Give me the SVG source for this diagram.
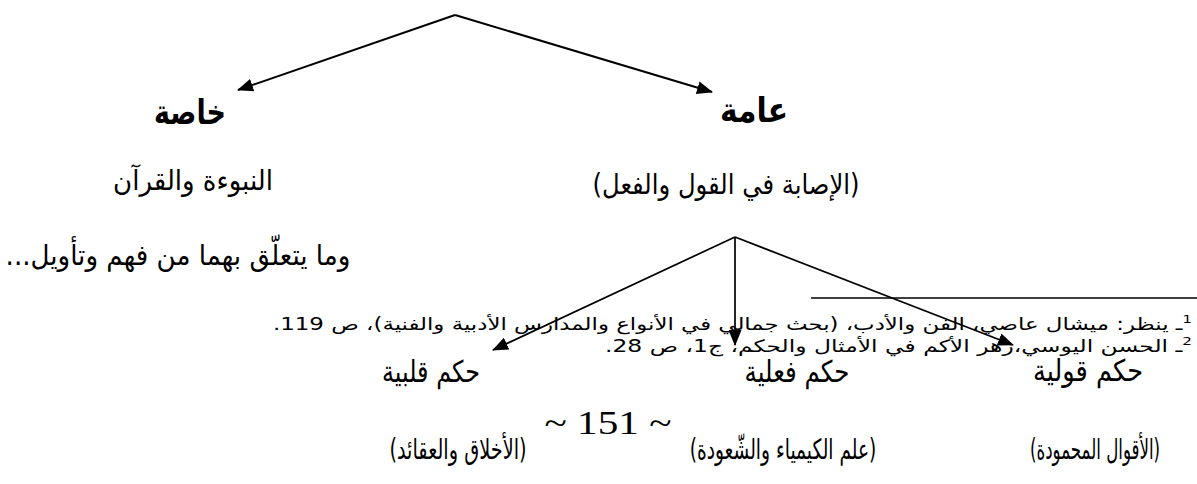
<svg xmlns="http://www.w3.org/2000/svg" width="1197" height="484" viewBox="0 0 1197 484">
<style>
.ar{font-family:"DejaVu Sans","Noto Sans",sans-serif;fill:#000;direction:rtl;unicode-bidi:embed}
.big{font-size:34px;font-weight:bold}
.main{font-size:28px}
.lab{font-size:30px}
.bot{font-size:28px}
.fn{font-size:17px}
.pg{font-family:"Liberation Serif","DejaVu Serif",serif;font-size:34px;fill:#000}
.ln{stroke:#000;stroke-width:2;fill:none}
.ln2{stroke:#000;stroke-width:1.7;fill:none}
</style>
<defs>
<marker id="ah" viewBox="0 0 16 13" refX="15" refY="6.5" markerWidth="16" markerHeight="13" markerUnits="userSpaceOnUse" orient="auto">
<path d="M0,0 L16,6.5 L0,13 z" fill="#000"/>
</marker>
</defs>
<g id="connectors">
<path class="ln" d="M455,15 L238,90" marker-end="url(#ah)"/>
<path class="ln" d="M455,15 L712,92" marker-end="url(#ah)"/>
<path class="ln2" d="M735,237 L493,350" marker-end="url(#ah)"/>
<path class="ln2" d="M735,237 L735,345" marker-end="url(#ah)"/>
<path class="ln2" d="M735,237 L1013,345" marker-end="url(#ah)"/>
</g>
<g id="footnote-rule"><line x1="811" y1="298" x2="1197" y2="298" stroke="#000" stroke-width="1.5"/></g>
<g id="khassa">
<text class="ar big" x="190" y="124" text-anchor="middle" textLength="72" lengthAdjust="spacingAndGlyphs">خاصة</text>
<text class="ar main" transform="translate(193,190) scale(0.85,1)" x="0" y="0" text-anchor="middle" textLength="188" lengthAdjust="spacingAndGlyphs">النبوءة والقرآن</text>
<text class="ar main" transform="translate(178,265) scale(0.86,1)" x="0" y="0" text-anchor="middle" textLength="401" lengthAdjust="spacingAndGlyphs">وما يتعلّق بهما من فهم وتأويل...</text>
</g>
<g id="amma">
<text class="ar big" x="754" y="122" text-anchor="middle" textLength="68" lengthAdjust="spacingAndGlyphs">عامة</text>
<text class="ar main" transform="translate(726,194) scale(0.85,1)" x="0" y="0" text-anchor="middle" textLength="314" lengthAdjust="spacingAndGlyphs">(الإصابة في القول والفعل)</text>
</g>
<g id="footnotes">
<text class="ar fn" x="1192" y="330" text-anchor="start" textLength="919" lengthAdjust="spacingAndGlyphs"><tspan font-size="11" dy="-7">1</tspan><tspan dy="7">ـ ينظر: ميشال عاصي، الفن والأدب، (بحث جمالي في الأنواع والمدارس الأدبية والفنية)، ص 119.</tspan></text>
<text class="ar fn" x="1192" y="352" text-anchor="start" textLength="587" lengthAdjust="spacingAndGlyphs"><tspan font-size="11" dy="-7">2</tspan><tspan dy="7">ـ الحسن اليوسي،زهر الأكم في الأمثال والحكم، ج1، ص 28.</tspan></text>
</g>
<g id="qalbiya">
<text class="ar lab" transform="translate(431,382) scale(0.75,1)" x="0" y="0" text-anchor="middle" textLength="131" lengthAdjust="spacingAndGlyphs">حكم قلبية</text>
<text class="ar bot" transform="translate(458,459) scale(0.56,1)" x="0" y="0" text-anchor="middle" textLength="245" lengthAdjust="spacingAndGlyphs">(الأخلاق والعقائد)</text>
</g>
<g id="fiiliya">
<text class="ar lab" transform="translate(797,382) scale(0.8,1)" x="0" y="0" text-anchor="middle" textLength="131" lengthAdjust="spacingAndGlyphs">حكم فعلية</text>
<text class="ar bot" transform="translate(783,459) scale(0.58,1)" x="0" y="0" text-anchor="middle" textLength="322" lengthAdjust="spacingAndGlyphs">(علم الكيمياء والشّعودة)</text>
</g>
<g id="qawliya">
<text class="ar lab" transform="translate(1088,381) scale(0.84,1)" x="0" y="0" text-anchor="middle" textLength="131" lengthAdjust="spacingAndGlyphs">حكم قولية</text>
<text class="ar bot" transform="translate(1095,459) scale(0.54,1)" x="0" y="0" text-anchor="middle" textLength="241" lengthAdjust="spacingAndGlyphs">(الأقوال المحمودة)</text>
</g>
<g id="page-number"><text class="pg" x="608" y="434" text-anchor="middle" textLength="127" lengthAdjust="spacingAndGlyphs">~ 151 ~</text></g>
</svg>
